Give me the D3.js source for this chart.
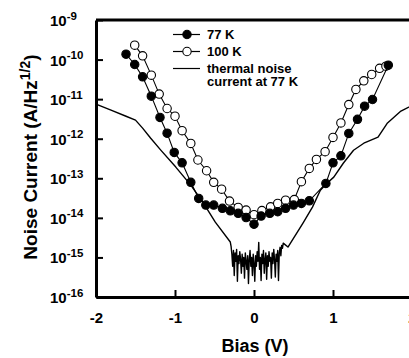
<!DOCTYPE html>
<html>
<head>
<meta charset="utf-8">
<script src="https://cdnjs.cloudflare.com/ajax/libs/d3/7.8.5/d3.min.js"></script>
<style>
  html, body { margin: 0; padding: 0; background: #fff; }
  svg { display: block; font-family: Arial, "Liberation Sans", sans-serif; font-weight: bold; }
</style>
</head>
<body>
<svg width="409" height="358"></svg>
<script>
// ======================= DATA =======================
// @ 77 K measured noise current (A/Hz^1/2) vs bias (V)
const bias77 = [-1.62, -1.51, -1.41, -1.30, -1.19, -1.10, -1.01, -0.91, -0.80, -0.70,
  -0.61, -0.51, -0.40, -0.30, -0.20, -0.10, 0.00, 0.09, 0.20, 0.30,
  0.40, 0.50, 0.60, 0.70, 0.91, 1.00, 1.10, 1.20, 1.31, 1.40,
  1.50, 1.70];
const noise77 = [1.37e-10, 7.5e-11, 3.66e-11, 1.19e-11, 3.45e-12, 1.38e-12, 4.5e-13, 2.46e-13, 7.9e-14, 3.1e-14,
  2.1e-14, 2.1e-14, 1.74e-14, 1.51e-14, 1.3e-14, 1.02e-14, 6.9e-15, 1.11e-14, 1.3e-14, 1.43e-14,
  1.74e-14, 2.1e-14, 2.32e-14, 2.7e-14, 7.4e-14, 2.46e-13, 3.7e-13, 1.36e-12, 3.1e-12, 6.65e-12,
  9.8e-12, 7.2e-11];

// @ 100 K measured noise current
const bias100 = [-1.51, -1.41, -1.30, -1.20, -1.10, -1.00, -0.91, -0.80, -0.71, -0.60,
  -0.51, -0.41, -0.31, -0.20, -0.10, 0.00, 0.10, 0.21, 0.30, 0.40,
  0.51, 0.60, 0.70, 0.79, 0.90, 1.00, 1.10, 1.20, 1.29, 1.39,
  1.49, 1.59, 1.67];
const noise100 = [2.31e-10, 1.24e-10, 4.04e-11, 1.34e-11, 5.8e-12, 3.7e-12, 1.6e-12, 7.6e-13, 2.9e-13, 1.55e-13,
  7.9e-14, 5.3e-14, 2.65e-14, 1.84e-14, 1.57e-14, 1.2e-14, 1.53e-14, 1.9e-14, 2.32e-14, 2.8e-14,
  2.9e-14, 8.2e-14, 1.78e-13, 3.0e-13, 4.7e-13, 1.08e-12, 2.5e-12, 7.3e-12, 1.76e-11, 2.9e-11,
  4.2e-11, 6.0e-11, 6.8e-11];

// @ thermal noise current at 77 K (noisy part around zero bias)
const thermalBias = [-2.00, -1.81, -1.62, -1.50, -1.41, -1.31, -1.18, -0.99, -0.80, -0.64, -0.49, -0.30,
  -0.29, -0.28, -0.27, -0.26, -0.25, -0.24, -0.23, -0.22, -0.21, -0.20,
  -0.19, -0.18, -0.17, -0.16, -0.15, -0.14, -0.13, -0.12, -0.11, -0.10,
  -0.09, -0.08, -0.07, -0.06, -0.05, -0.04, -0.03, -0.02, -0.01, 0.00,
  0.01, 0.02, 0.03, 0.04, 0.05, 0.06, 0.07, 0.08, 0.09, 0.10,
  0.11, 0.12, 0.13, 0.14, 0.15, 0.16, 0.17, 0.18, 0.19, 0.20,
  0.21, 0.22, 0.23, 0.24, 0.25, 0.26, 0.27, 0.28, 0.29, 0.30,
  0.31, 0.32, 0.33, 0.34, 0.35, 0.36, 0.37,
  0.43, 0.62, 0.74, 0.84, 0.91, 1.01, 1.13, 1.26, 1.39, 1.57, 1.69, 1.86, 1.96, 2.00];
const thermalCurrent = [7.5e-12, 5.3e-12, 3.7e-12, 2.95e-12, 1.85e-12, 1.04e-12, 5.15e-13, 1.92e-13, 6.7e-14, 2.37e-14, 7.8e-15, 2.45e-15,
  1.9e-15, 1.2e-15, 6e-16, 1.5e-15, 3.5e-16, 1.3e-15, 8e-16, 1.6e-15, 2.5e-16, 1.1e-15,
  7e-16, 1.4e-15, 9e-16, 4e-16, 1.2e-15, 6e-16, 1.0e-15, 3e-16, 1.3e-15, 8e-16,
  5e-16, 1.1e-15, 2.2e-16, 9e-16, 1.5e-15, 6e-16, 1.0e-15, 3.5e-16, 1.2e-15, 7e-16,
  2.5e-16, 1.1e-15, 6e-16, 1.4e-15, 8e-16, 2.4e-15, 5e-16, 1.0e-15, 2.6e-16, 1.2e-15,
  7e-16, 1.5e-15, 4e-16, 9e-16, 1.3e-15, 2.8e-16, 1.1e-15, 6e-16, 1.4e-15, 8e-16,
  1.0e-15, 3e-16, 1.3e-15, 7e-16, 1.6e-15, 9e-16, 3.2e-16, 1.2e-15, 8e-16, 1.5e-15,
  2.6e-16, 1.3e-15, 1.8e-15, 1.1e-15, 2.0e-15, 1.7e-15, 2.3e-15,
  1.83e-15, 7.4e-15, 1.87e-14, 5.0e-14, 7.1e-14, 1.07e-13, 2.4e-13, 5.1e-13, 7.7e-13, 1.1e-12, 2.5e-12, 5.0e-12, 6.3e-12, 7.0e-12];

// @ axis ticks
const xTicks = [-2, -1, 0, 1, 2];
const yExponents = [-16, -15, -14, -13, -12, -11, -10, -9];

// @ legend entries
const legendLabels = ["77 K", "100 K", "thermal noise", "current at 77 K"];

// ======================= DRAW =======================
const svg = d3.select("svg");

const x = d3.scaleLinear().domain([-2, 2]).range([96, 412]);
const y = d3.scaleLog().domain([1e-16, 1e-9]).range([297, 20]);

const zip = (xs, ys) => xs.map((v, i) => [v, ys[i]]);
const line = d3.line().x(d => x(d[0])).y(d => y(d[1]));

// @ thermal noise curve
svg.append("path")
  .datum(zip(thermalBias, thermalCurrent))
  .attr("d", line)
  .attr("fill", "none")
  .attr("stroke", "#000")
  .attr("stroke-width", 1.4)
  .attr("stroke-linejoin", "round");

// @ 100 K (open) then 77 K (filled)
function drawSeries(bias, noise, fill) {
  const pts = zip(bias, noise);
  svg.append("path")
    .datum(pts)
    .attr("d", line)
    .attr("fill", "none")
    .attr("stroke", "#000")
    .attr("stroke-width", 1.1);
  svg.append("g").selectAll("circle")
    .data(pts)
    .enter().append("circle")
    .attr("cx", d => x(d[0]))
    .attr("cy", d => y(d[1]))
    .attr("r", 4.2)
    .attr("fill", fill)
    .attr("stroke", "#000")
    .attr("stroke-width", 1.1);
}
drawSeries(bias100, noise100, "#fff");
drawSeries(bias77, noise77, "#000");

// @ axes
const xAxis = svg.append("g")
  .attr("transform", "translate(0,297)")
  .call(d3.axisBottom(x).tickValues(xTicks).tickSizeInner(-7).tickSizeOuter(0)
    .tickPadding(15).tickFormat(d => String(d)));

const yAxis = svg.append("g")
  .attr("transform", "translate(96,0)")
  .call(d3.axisLeft(y).tickValues(yExponents.map(e => Math.pow(10, e)))
    .tickSizeInner(-7).tickSizeOuter(0).tickFormat(""));

[xAxis, yAxis].forEach(g => {
  g.select(".domain").attr("stroke", "#000").attr("stroke-width", 3);
  g.selectAll(".tick line").attr("stroke", "#000").attr("stroke-width", 2);
});
xAxis.selectAll("text")
  .attr("fill", "#000")
  .style("font-size", "15px")
  .style("font-weight", "bold")
  .style("font-family", "Arial, 'Liberation Sans', sans-serif");

// @ y tick labels as 10^n
yAxis.selectAll(".tick").each(function (d, i) {
  const t = d3.select(this).append("text")
    .attr("x", -46)
    .attr("y", 5.5)
    .attr("fill", "#000")
    .attr("text-anchor", "start")
    .style("font-size", "15px");
  t.append("tspan").text("10");
  t.append("tspan").attr("dy", -6.5).style("font-size", "11.5px").text(String(yExponents[i]));
});

// @ top frame line
svg.append("line")
  .attr("x1", 96).attr("x2", 412).attr("y1", 20).attr("y2", 20)
  .attr("stroke", "#000").attr("stroke-width", 3);

// @ axis titles
svg.append("text")
  .attr("x", 255).attr("y", 352)
  .attr("text-anchor", "middle")
  .style("font-size", "18px")
  .text("Bias (V)");

const yTitle = svg.append("text")
  .attr("transform", "translate(37,157) rotate(-90)")
  .attr("text-anchor", "middle")
  .style("font-size", "19px");
yTitle.append("tspan").text("Noise Current (A/Hz");
yTitle.append("tspan").attr("dy", -7).style("font-size", "14px").text("1/2");
yTitle.append("tspan").attr("dy", 7).text(")");

// @ legend
const legend = svg.append("g").style("font-size", "13px");
const rowsY = [34.5, 51.5, 68.5];
rowsY.forEach((ry, i) => {
  legend.append("line")
    .attr("x1", 173).attr("x2", 200).attr("y1", ry).attr("y2", ry)
    .attr("stroke", "#000").attr("stroke-width", 1.2);
  if (i < 2) {
    legend.append("circle")
      .attr("cx", 187).attr("cy", ry).attr("r", 4.2)
      .attr("fill", i === 0 ? "#000" : "#fff")
      .attr("stroke", "#000").attr("stroke-width", 1.1);
  }
});
legendLabels.forEach((lab, i) => {
  legend.append("text")
    .attr("x", 207)
    .attr("y", [39, 56, 73, 86][i])
    .text(lab);
});
</script>
</body>
</html>
